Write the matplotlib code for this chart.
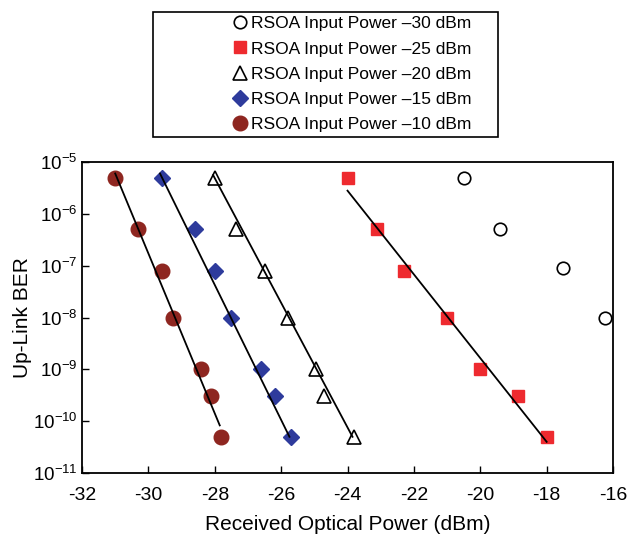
import matplotlib.pyplot as plt
import matplotlib.patches as patches

plt.rcParams['font.family'] = ['Liberation Sans', 'DejaVu Sans']
plt.rcParams['mathtext.fontset'] = 'custom'
plt.rcParams['mathtext.rm'] = 'Liberation Sans'
plt.rcParams['mathtext.it'] = 'Liberation Sans'
plt.rcParams['mathtext.bf'] = 'Liberation Sans'

# data
p30_x = [-20.5, -19.4, -17.5, -16.25]
p30_ber = [5e-6, 5e-7, 9e-8, 1e-8]

p25_x = [-24.0, -23.1, -22.3, -21.0, -20.0, -18.85, -18.0]
p25_ber = [5e-6, 5e-7, 8e-8, 1e-8, 1e-9, 3e-10, 5e-11]
p25_fit_x = [-24.0, -18.0]
p25_fit_ber = [2.8e-6, 4e-11]

p20_x = [-28.0, -27.35, -26.5, -25.8, -24.95, -24.7, -23.8]
p20_ber = [5e-6, 5e-7, 8e-8, 1e-8, 1e-9, 3e-10, 5e-11]
p20_fit_x = [-28.05, -23.85]
p20_ber_fit = [5.6e-6, 5e-11]

p15_x = [-29.6, -28.6, -28.0, -27.5, -26.6, -26.2, -25.7]
p15_ber = [5e-6, 5e-7, 8e-8, 1e-8, 1e-9, 3e-10, 5e-11]
p15_fit_x = [-29.65, -25.75]
p15_fit_ber = [6e-6, 5e-11]

p10_x = [-31.0, -30.3, -29.6, -29.25, -28.4, -28.1, -27.8]
p10_ber = [5e-6, 5e-7, 8e-8, 1e-8, 1e-9, 3e-10, 5e-11]
p10_fit_x = [-31.0, -27.85]
p10_fit_ber = [6e-6, 8.3e-11]

labels = ['RSOA Input Power \u201330 dBm', 'RSOA Input Power \u201325 dBm',
          'RSOA Input Power \u201320 dBm', 'RSOA Input Power \u201315 dBm',
          'RSOA Input Power \u201310 dBm']
xticks = list(range(-32, -15, 2))
yexp = [-11, -10, -9, -8, -7, -6, -5]

fig = plt.figure(figsize=(6.29, 5.34), dpi=100)
ax = fig.add_axes([0.1304, 0.1142, 0.8442, 0.5824])

h30, = ax.plot(p30_x, p30_ber, 'o', ms=9, mfc='white', mec='black', mew=1.2, ls='none')
h25, = ax.plot(p25_x, p25_ber, 's', ms=9, color='#ee2a2f', ls='none')
h20, = ax.plot(p20_x, p20_ber, '^', ms=10, mfc='white', mec='black', mew=1.2, ls='none')
h15, = ax.plot(p15_x, p15_ber, 'D', ms=8.5, color='#2e3b9c', ls='none')
h10, = ax.plot(p10_x, p10_ber, 'o', ms=10.5, color='#8e2620', ls='none')

for fx, fy in [(p25_fit_x, p25_fit_ber), (p20_fit_x, p20_ber_fit),
               (p15_fit_x, p15_fit_ber), (p10_fit_x, p10_fit_ber)]:
    ax.plot(fx, fy, color='black', lw=1.3)

ax.set_yscale('log')
ax.set_xlim(-32, -16)
ax.set_ylim(1e-11, 1e-5)
ax.set_xticks(xticks)
ax.set_xticklabels([str(v) for v in xticks])
ax.set_yticks([10.0 ** e for e in yexp])
ax.set_yticklabels(['10$^{\\mathrm{' + str(e) + '}}$' for e in yexp])
ax.minorticks_off()
ax.tick_params(direction='in', length=5, width=1)
ax.tick_params(axis='x', labelsize=14, pad=10)
ax.tick_params(axis='y', labelsize=13.5, pad=3)
ax.set_xlabel('Received Optical Power (dBm)', fontsize=15, labelpad=8)
ax.set_ylabel('Up-Link BER', fontsize=15, labelpad=1)
for s in ax.spines.values():
    s.set_linewidth(1.3)

fig.legend([h30, h25, h20, h15, h10], labels, loc='upper right',
           bbox_to_anchor=(0.775, 0.999), frameon=False, fontsize=12.5,
           handletextpad=0.2, handlelength=0.9, labelspacing=0.58)
fig.patches.append(patches.Rectangle((153 / 629, 1 - 137 / 534), 345 / 629, 125 / 534,
                                     transform=fig.transFigure, fill=False,
                                     edgecolor='black', lw=1.2))

fig.savefig('out.png', dpi=100)
